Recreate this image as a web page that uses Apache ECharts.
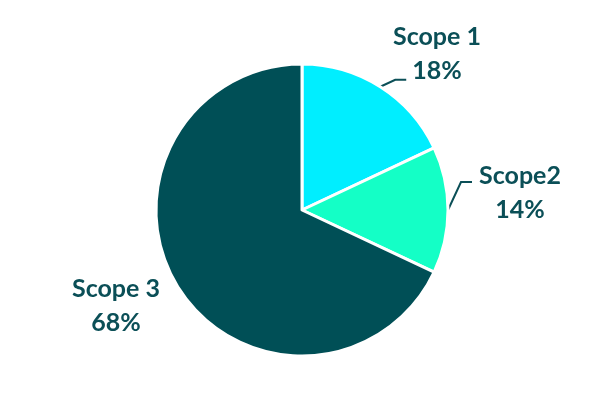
<!DOCTYPE html>
<html><head><meta charset="utf-8">
<script src="https://cdn.jsdelivr.net/npm/echarts@6/dist/echarts.min.js"></script>
<style>html,body{margin:0;padding:0;background:#fff}#c{width:601px;height:398px}</style>
</head><body><div id="c"></div>
<script>
const categories = ['Scope 1', 'Scope2', 'Scope 3'];
const values = [18, 14, 68];
const colors = ['#00EEFF', '#14FFC6', '#004F56'];
const labelPos = [[437, 54], [520, 193], [116, 306]];
const lineBend = [[15, -7, 26], [13, -28, 24], null];

const chart = echarts.init(document.getElementById('c'));
chart.setOption({
  animation: false,
  series: [{
    type: 'pie',
    center: [302, 210],
    radius: 146,
    startAngle: 90,
    clockwise: true,
    data: categories.map((n, i) => ({
      name: n, value: values[i], itemStyle: { color: colors[i] },
      labelLine: { show: lineBend[i] !== null }
    })),
    itemStyle: { borderColor: '#fff', borderWidth: 3 },
    label: {
      show: true,
      formatter: p => p.name + '\n' + p.value + '%',
      fontFamily: 'Lato',
      fontWeight: 'bold',
      fontSize: 25,
      lineHeight: 34,
      color: '#0B4F57',
      align: 'center'
    },
    labelLine: { show: true, length: 10, length2: 10, lineStyle: { color: '#0B4F57', width: 2 } },
    labelLayout: function (params) {
      const i = params.dataIndex;
      const p = labelPos[i];
      const out = { x: p[0], y: p[1], align: 'center', verticalAlign: 'middle' };
      const b = lineBend[i];
      if (b && params.labelLinePoints) {
        const e = params.labelLinePoints[0];
        out.labelLinePoints = [[e[0], e[1]], [e[0] + b[0], e[1] + b[1]], [e[0] + b[2], e[1] + b[1]]];
      }
      return out;
    }
  }]
});
</script></body></html>
